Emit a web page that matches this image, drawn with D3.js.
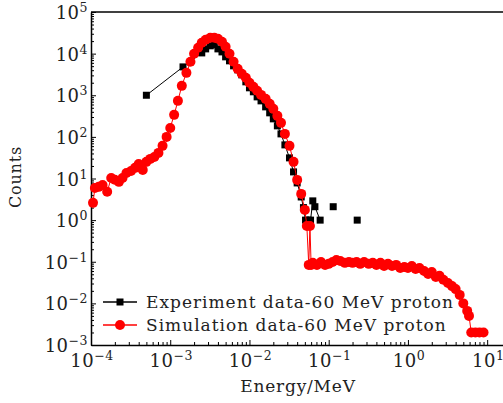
<!DOCTYPE html>
<html>
<head>
<meta charset="utf-8">
<title>Counts vs Energy</title>
<script src="https://d3js.org/d3.v7.min.js"></script>
<style>
  body { margin: 0; background: #fff; }
  text { font-family: "DejaVu Serif", serif; fill: #222; }
</style>
</head>
<body>
<div id="chart"></div>
<script>
// Experiment data-60 MeV proton (0 = empty bin, the line breaks there)
var expEnergy = [5.0e-4, 1.45e-3,
  2.5e-3, 2.8e-3, 3.2e-3, 3.6e-3, 4.0e-3, 4.5e-3, 5.0e-3, 5.6e-3, 6.3e-3, 7.1e-3, 8.0e-3, 9.0e-3,
  1.0e-2, 1.12e-2, 1.25e-2, 1.4e-2, 1.6e-2, 1.8e-2, 2.0e-2, 2.25e-2, 2.5e-2, 2.8e-2, 3.2e-2, 3.6e-2, 4.0e-2, 4.5e-2,
  4.8e-2, 5.1e-2, 5.5e-2, 5.9e-2, 6.3e-2, 6.7e-2, 7.8e-2, 9.0e-2,
  0.114, 0.16, 0.229];
var expCounts = [1000, 4800,
  10400, 13000, 15400, 16300, 13000, 11000, 8370, 6710, 5090, 4080, 3090, 2100,
  1510, 1210, 914, 733, 526, 378, 271, 184, 118, 64.2, 31.3, 14.4, 7.83, 3.6,
  2.0, 1.0, 1.0, 1.0, 2.9, 2.1, 1.0, 0,
  2.1, 0, 1.0];

// Simulation data-60 MeV proton
var simEnergy = [1.06e-4, 1.12e-4, 1.25e-4, 1.4e-4, 1.6e-4, 1.8e-4, 2.0e-4, 2.25e-4, 2.5e-4, 2.8e-4, 3.2e-4, 3.6e-4, 4.0e-4, 4.5e-4, 5.0e-4, 5.6e-4, 6.3e-4, 7.1e-4, 8.0e-4, 9.0e-4,
  1.0e-3, 1.12e-3, 1.25e-3, 1.4e-3, 1.6e-3, 1.8e-3, 2.0e-3, 2.25e-3, 2.5e-3, 2.8e-3, 3.2e-3, 3.6e-3, 4.0e-3, 4.5e-3, 5.0e-3, 5.6e-3, 6.3e-3, 7.1e-3, 8.0e-3, 9.0e-3,
  1.0e-2, 1.12e-2, 1.25e-2, 1.4e-2, 1.6e-2, 1.8e-2, 2.0e-2, 2.25e-2, 2.5e-2, 2.8e-2, 3.2e-2, 3.6e-2, 4.0e-2, 4.5e-2, 5.0e-2, 5.3e-2, 5.6e-2, 5.8e-2, 6.0e-2, 6.3e-2, 7.1e-2, 8.0e-2, 9.0e-2,
  0.10, 0.112, 0.125, 0.14, 0.16, 0.18, 0.20, 0.225, 0.25, 0.28, 0.32, 0.36, 0.40, 0.45, 0.50, 0.56, 0.63, 0.71, 0.80, 0.90,
  1.0, 1.12, 1.25, 1.4, 1.6, 1.8, 2.0, 2.25, 2.5, 2.8, 3.2, 3.6, 4.0, 4.5, 5.0, 5.6, 5.9, 6.3, 7.1, 8.0, 9.0];
var simCounts = [2.6, 5.9, 6.3, 7.0, 4.8, 10.3, 9.3, 8.3, 10.3, 13.6, 15.2, 18.0, 22.4, 16.1, 25.1, 29.6, 33.0, 41.2, 60.8, 100,
  164, 338, 733, 1680, 3450, 6350, 9890, 13800, 18200, 21500, 24000, 24000, 22700, 19200, 14600, 9890, 6350, 4310, 3270, 2620,
  1990, 1590, 1280, 1020, 819, 621, 471, 320, 217, 118, 60.8, 25.1, 9.25, 4.27, 1.76, 0.726, 0.084, 0.726, 0.084, 0.094, 0.084, 0.099, 0.084,
  0.089, 0.099, 0.110, 0.104, 0.094, 0.099, 0.094, 0.099, 0.089, 0.099, 0.089, 0.094, 0.084, 0.094, 0.079, 0.089, 0.079, 0.084, 0.071, 0.075,
  0.071, 0.079, 0.067, 0.071, 0.060, 0.051, 0.057, 0.043, 0.046, 0.037, 0.031, 0.026, 0.022, 0.016, 0.010, 0.0066, 0.0050, 0.002, 0.002, 0.002, 0.002];

var xTickValues = [1e-4, 1e-3, 1e-2, 1e-1, 1e0, 1e1];
var yTickValues = [1e-3, 1e-2, 1e-1, 1e0, 1e1, 1e2, 1e3, 1e4, 1e5];
var seriesNames = ["Experiment data-60 MeV proton", "Simulation data-60 MeV proton"];

var margin = {top: 12, right: 0, bottom: 58, left: 91},
    width = 503 - margin.left,
    height = 403 - margin.top - margin.bottom;

var svg = d3.select("#chart")
  .append("svg")
    .attr("width", 503)
    .attr("height", 403)
  .append("g")
    .attr("transform", "translate(" + margin.left + "," + margin.top + ")");

// the frame runs past the right edge of the picture
var x = d3.scaleLog().domain([1e-4, 17.8]).range([0, 416]);
var y = d3.scaleLog().domain([1e-3, 1e5]).range([height, 0]);

function minorTicks(majors, domain) {
  var out = [];
  majors.forEach(function(d) {
    for (var m = 2; m < 10; m++) {
      if (d * m < domain[1]) out.push(d * m);
    }
  });
  return out;
}

// minor ticks
svg.append("g")
  .attr("transform", "translate(0," + height + ")")
  .call(d3.axisBottom(x).tickValues(minorTicks(xTickValues, x.domain())).tickSize(-3).tickFormat(""))
  .call(function(g) { g.select(".domain").remove(); });
svg.append("g")
  .call(d3.axisLeft(y).tickValues(minorTicks(yTickValues, y.domain())).tickSize(-3).tickFormat(""))
  .call(function(g) { g.select(".domain").remove(); });

// major ticks + axis lines
svg.append("g")
  .attr("transform", "translate(0," + height + ")")
  .call(d3.axisBottom(x).tickValues(xTickValues).tickSize(-5).tickSizeOuter(0).tickFormat(""));
svg.append("g")
  .call(d3.axisLeft(y).tickValues(yTickValues).tickSize(-5).tickSizeOuter(0).tickFormat(""));
svg.selectAll(".domain").attr("stroke-width", 1.5);
svg.selectAll(".tick line").attr("stroke-width", 1);

// top frame line
svg.append("line")
  .attr("x1", 0).attr("x2", width)
  .attr("y1", 0).attr("y2", 0)
  .attr("stroke", "black").attr("stroke-width", 1.5);

function powLabel(sel, v) {
  var e = Math.round(Math.log10(v));
  sel.append("tspan").text("10");
  sel.append("tspan")
    .attr("dy", -7)
    .style("font-size", "12.5px")
    .text(e < 0 ? "\u2212" + (-e) : e);
}

yTickValues.forEach(function(v) {
  svg.append("text")
    .attr("x", -3)
    .attr("y", y(v) + 7)
    .attr("text-anchor", "end")
    .style("font-size", "18px")
    .style("letter-spacing", "0.5px")
    .call(powLabel, v);
});
xTickValues.forEach(function(v) {
  svg.append("text")
    .attr("x", x(v) + 1)
    .attr("y", height + 22)
    .attr("text-anchor", "middle")
    .style("font-size", "18px")
    .style("letter-spacing", "0.5px")
    .call(powLabel, v);
});

// axis titles
svg.append("text")
  .attr("transform", "translate(-70," + 165 + ") rotate(-90)")
  .attr("text-anchor", "middle")
  .style("font-size", "16px")
  .style("letter-spacing", "0.8px")
  .text("Counts");
svg.append("text")
  .attr("x", 207)
  .attr("y", height + 47)
  .attr("text-anchor", "middle")
  .style("font-size", "17px")
  .style("letter-spacing", "0.8px")
  .text("Energy/MeV");

var expData = expEnergy.map(function(e, i) { return {e: e, c: expCounts[i]}; });
var simData = simEnergy.map(function(e, i) { return {e: e, c: simCounts[i]}; });

var line = d3.line()
  .defined(function(d) { return d.c > 0; })
  .x(function(d) { return x(d.e); })
  .y(function(d) { return y(d.c); });

// experiment: black squares
svg.append("path")
  .datum(expData)
  .attr("fill", "none")
  .attr("stroke", "black")
  .attr("stroke-width", 1)
  .attr("d", line);
svg.selectAll(".sq")
  .data(expData.filter(function(d) { return d.c > 0; }))
  .enter()
  .append("rect")
    .attr("class", "sq")
    .attr("x", function(d) { return x(d.e) - 3.5; })
    .attr("y", function(d) { return y(d.c) - 3.5; })
    .attr("width", 7)
    .attr("height", 7)
    .attr("fill", "black");

// simulation: red circles
svg.append("path")
  .datum(simData)
  .attr("fill", "none")
  .attr("stroke", "red")
  .attr("stroke-width", 1)
  .attr("d", line);
svg.selectAll(".dot")
  .data(simData)
  .enter()
  .append("circle")
    .attr("class", "dot")
    .attr("cx", function(d) { return x(d.e); })
    .attr("cy", function(d) { return y(d.c); })
    .attr("r", 5)
    .attr("fill", "red");

// legend
var legend = svg.append("g").attr("transform", "translate(12,290)");
seriesNames.forEach(function(name, i) {
  var row = legend.append("g").attr("transform", "translate(0," + (i * 23) + ")");
  var col = i === 0 ? "black" : "red";
  row.append("line")
    .attr("x1", 0).attr("x2", 34)
    .attr("stroke", col).attr("stroke-width", 1.5);
  if (i === 0) {
    row.append("rect").attr("x", 13.5).attr("y", -3.5).attr("width", 7).attr("height", 7).attr("fill", col);
  } else {
    row.append("circle").attr("cx", 17).attr("r", 5).attr("fill", col);
  }
  row.append("text")
    .attr("x", 43)
    .attr("y", 6)
    .style("font-size", "17px")
    .style("letter-spacing", "1px")
    .text(name);
});
</script>
</body>
</html>
